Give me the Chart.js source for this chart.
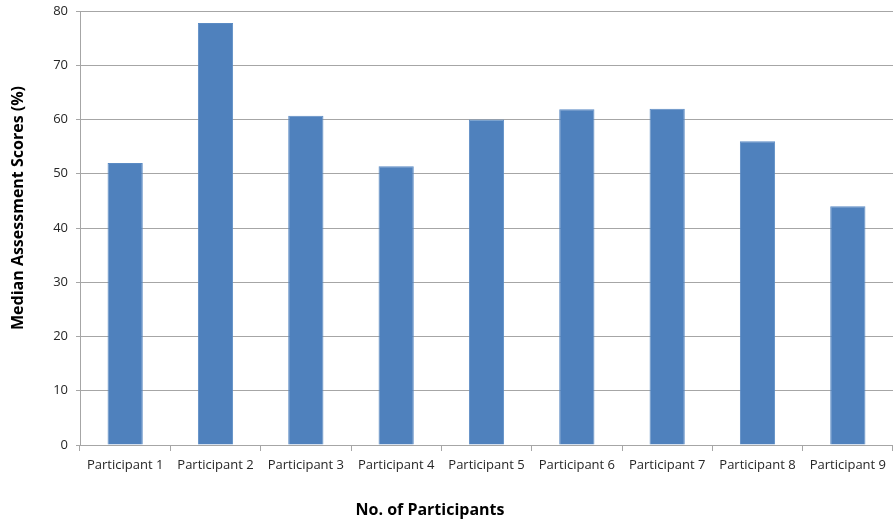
<!DOCTYPE html>
<html>
<head>
<meta charset="utf-8">
<script src="https://cdn.jsdelivr.net/npm/chart.js@4"></script>
<style>
  html, body { margin: 0; padding: 0; background: #ffffff; }
  #wrap { width: 893px; height: 524px; position: relative; }
</style>
</head>
<body>
<div id="wrap"><canvas id="scoreChart"></canvas></div>
<script>
// ====== data ======
const participants = [
  'Participant 1', 'Participant 2', 'Participant 3',
  'Participant 4', 'Participant 5', 'Participant 6',
  'Participant 7', 'Participant 8', 'Participant 9'
];
const medianScores = [52, 77.8, 60.7, 51.4, 60, 61.9, 62, 56, 44];
const yTicks = [0, 10, 20, 30, 40, 50, 60, 70, 80];

const yTitle = 'Median Assessment Scores (%)';
const xTitle = 'No. of Participants';

// ====== colours ======
const BAR_COLOR = '#4F81BD';
const GRID_COLOR = '#a6a6a6';
const TEXT_COLOR = '#262626';
const FONT = '"Open Sans", "DejaVu Sans", sans-serif';

// axis titles sit a little off-centre, so they are drawn by hand
const axisTitlePlugin = {
  id: 'axisTitles',
  afterDraw(chart) {
    const { ctx } = chart;
    ctx.save();
    ctx.fillStyle = '#000000';
    ctx.font = `bold 16px ${FONT}`;
    ctx.textAlign = 'center';
    ctx.textBaseline = 'middle';
    ctx.fillText(xTitle, 430, 510);
    ctx.translate(18, 208);
    ctx.rotate(-Math.PI / 2);
    ctx.fillText(yTitle, 0, 0);
    ctx.restore();
  }
};

const ctx = document.getElementById('scoreChart').getContext('2d');

new Chart(ctx, {
  type: 'bar',
  data: {
    labels: participants,
    datasets: [{
      data: medianScores,
      backgroundColor: BAR_COLOR,
      borderColor: '#5b8bc4',
      borderWidth: 1,
      categoryPercentage: 1,
      barPercentage: 0.39
    }]
  },
  options: {
    responsive: true,
    maintainAspectRatio: false,
    animation: false,
    layout: { padding: 0 },
    plugins: {
      legend: { display: false },
      tooltip: { enabled: false }
    },
    scales: {
      x: {
        afterFit: s => {
          s.height = 79;
          s.paddingLeft = 0;
          s.paddingRight = 0;
        },
        grid: {
          offset: true,
          drawOnChartArea: false,
          color: GRID_COLOR,
          tickLength: 6
        },
        border: { color: GRID_COLOR },
        ticks: {
          color: TEXT_COLOR,
          padding: 6,
          maxRotation: 0,
          autoSkip: false,
          font: { family: FONT, size: 13 }
        }
      },
      y: {
        min: 0,
        max: 80,
        afterFit: s => {
          s.width = 80;
          s.paddingTop = 11;
          s.paddingBottom = 0;
        },
        afterBuildTicks: s => { s.ticks = yTicks.map(v => ({ value: v })); },
        grid: {
          color: GRID_COLOR,
          tickLength: 4
        },
        border: { color: GRID_COLOR },
        ticks: {
          color: TEXT_COLOR,
          padding: 8,
          font: { family: FONT, size: 13 }
        }
      }
    }
  },
  plugins: [axisTitlePlugin]
});
</script>
</body>
</html>
